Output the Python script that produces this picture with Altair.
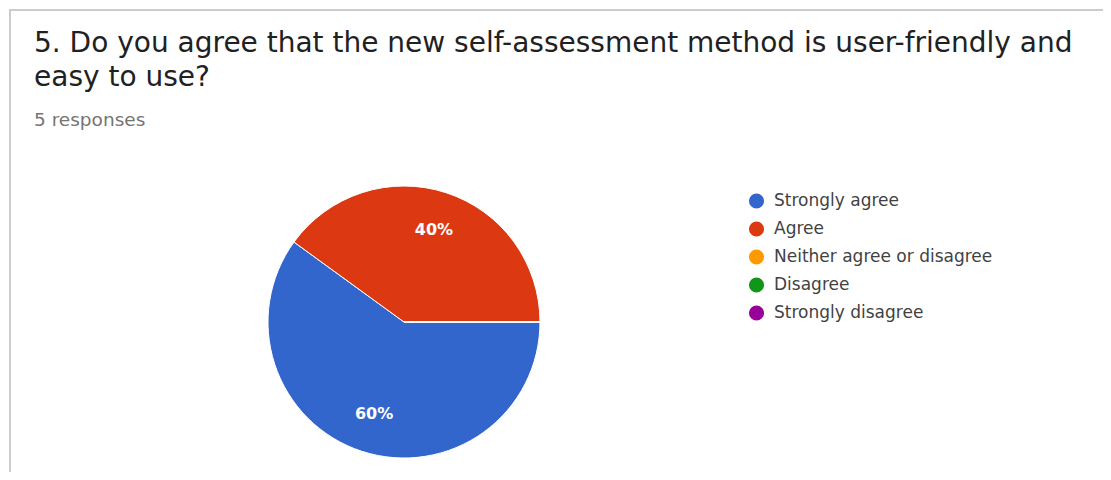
import math
import altair as alt
import pandas as pd

categories = ["Strongly agree", "Agree", "Neither agree or disagree", "Disagree", "Strongly disagree"]
counts = [3, 2, 0, 0, 0]
colors = ["#3366cc", "#dc3912", "#ff9900", "#109618", "#990099"]
title_lines = ["5. Do you agree that the new self-assessment method is user-friendly and", "easy to use?"]
subtitle = "5 responses"

total = sum(counts)
df = pd.DataFrame({
    "category": categories,
    "count": counts,
    "order": list(range(len(categories))),
    "label": [f"{round(100 * c / total)}%" if c > 0 else "" for c in counts],
})

PLOT_TOP = 180
PLOT_LEFT = 34
W, H = 740, 2 * (322 - PLOT_TOP)
FONT = "DejaVu Sans"

base = alt.Chart(df).encode(
    theta=alt.Theta("count:Q", stack=True,
                    scale=alt.Scale(range=[math.pi / 2, math.pi / 2 + 2 * math.pi])),
    order=alt.Order("order:Q"),
)

pie = base.mark_arc(outerRadius=136, stroke="white", strokeWidth=1).encode(
    color=alt.Color(
        "category:N",
        scale=alt.Scale(domain=categories, range=colors),
        legend=alt.Legend(
            title=None, orient="none", legendX=714, legendY=12.5,
            labelFontSize=17, labelColor="#424242", labelFont=FONT,
            symbolType="circle", symbolSize=230, symbolStrokeWidth=0,
            labelOffset=9, rowPadding=10, labelLimit=400,
        ),
    )
)

labels = base.mark_text(radius=97, fontSize=16, fontWeight="bold", color="white",
                        font=FONT).encode(text="label:N")

card = alt.Chart(pd.DataFrame({"k": [0]})).mark_rect(
    fillOpacity=0, stroke="#cccccc", strokeWidth=2
).encode(
    x=alt.value(10 - PLOT_LEFT), x2=alt.value(1200),
    y=alt.value(10 - PLOT_TOP), y2=alt.value(478 - PLOT_TOP),
)

def text_line(txt, y_abs, size, color):
    return alt.Chart(pd.DataFrame({"t": [txt]})).mark_text(
        align="left", baseline="alphabetic", font=FONT, fontSize=size, color=color
    ).encode(text="t:N", x=alt.value(0), y=alt.value(y_abs - PLOT_TOP))

t1 = text_line(title_lines[0], 52, 28, "#212121")
t2 = text_line(title_lines[1], 86, 28, "#212121")
t3 = text_line(subtitle, 126, 18.5, "#757575")

chart = alt.layer(card, t1, t2, t3, pie, labels).properties(
    width=W,
    height=H,
    autosize=alt.AutoSizeParams(type="none"),
    padding={"left": PLOT_LEFT - 8, "top": PLOT_TOP - 8,
             "right": 1095 - W - (PLOT_LEFT - 8), "bottom": 464 - H - (PLOT_TOP - 8)},
).configure(background="white").configure_view(stroke=None)

chart.save("out.html", embed_options={"renderer": "svg", "actions": False})
